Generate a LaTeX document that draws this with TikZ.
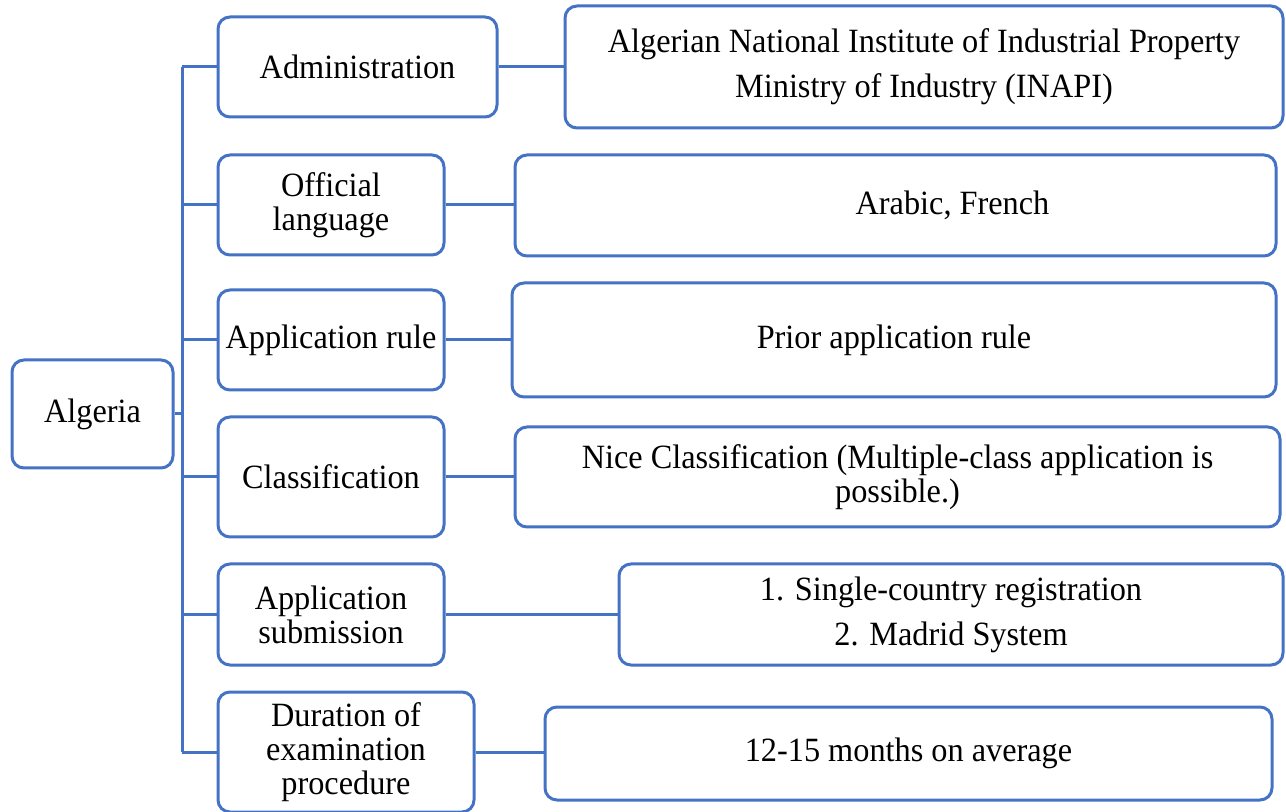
\documentclass[tikz,border=0pt]{standalone}
\usepackage{fontspec}
\setmainfont[FakeStretch=0.95]{Liberation Serif}
\usepackage{tikz}
\usetikzlibrary{calc}
\usetikzlibrary{positioning}
\definecolor{boxblue}{HTML}{4472C4}

\begin{document}
\begin{tikzpicture}[x=0.5pt,y=-0.5pt,
	box/.style={draw=boxblue,line width=1.5pt,rounded corners=6pt,align=center,inner sep=0pt,
		font=\fontsize{17}{17}\selectfont,text=black},
	link/.style={draw=boxblue,line width=1.5pt}]
			\useasboundingbox (0,0) rectangle (1286,812);
			%country and topics
			\node[box,minimum width=80.5pt,minimum height=54pt] (alg) at (92.5,414) {Algeria};
			\node[box,minimum width=139.5pt,minimum height=50pt] (adm) at (357.5,67) {Administration};
			\node[box,minimum width=113pt,minimum height=50pt] (lang) at (331,205) {Official\\language};
			\node[box,minimum width=113pt,minimum height=50pt] (rule) at (331,340) {Application rule};
			\node[box,minimum width=113pt,minimum height=60pt] (cls) at (331,477) {Classification};
			\node[box,minimum width=113pt,minimum height=50.5pt] (sub) at (331,614.5) {Application\\submission};
			\node[box,minimum width=128pt,minimum height=60pt] (dur) at (346,752) {Duration of\\examination\\procedure};
			%details
			\node[box,minimum width=359pt,minimum height=61pt] (admD) at (924,67) {Algerian National Institute of Industrial Property\\[5.5pt]Ministry of Industry (INAPI)};
			\node[box,minimum width=380.5pt,minimum height=50.5pt] (langD) at (895.5,205.5) {\hspace*{57pt}Arabic, French};
			\node[box,minimum width=382pt,minimum height=57pt] (ruleD) at (894,340) {Prior application rule};
			\node[box,minimum width=382.5pt,minimum height=50pt] (clsD) at (897.5,477) {Nice Classification (Multiple-class application is\\possible.)};
			\node[box,minimum width=332pt,minimum height=50.5pt] (subD) at (951,614.5) {1. Single-country registration\\[5.5pt]2. Madrid System};
			\node[box,minimum width=363.5pt,minimum height=46.5pt] (durD) at (908.5,753.5) {12-15 months on average};
			%trunk
			\coordinate (trunk) at (182,414);
			\draw[link] (alg.east)--(trunk);
			\draw[link] (trunk|-adm.west)--(trunk|-dur.west);
			\foreach \t in {adm,lang,rule,cls,sub,dur}
				\draw[link] (trunk|-\t.west)--(\t.west);
			%topic to detail
			\foreach \t in {adm,lang,rule,cls,sub,dur}
				\draw[link] (\t.east)--(\t.east-|\t D.west);
		\end{tikzpicture}
\end{document}
